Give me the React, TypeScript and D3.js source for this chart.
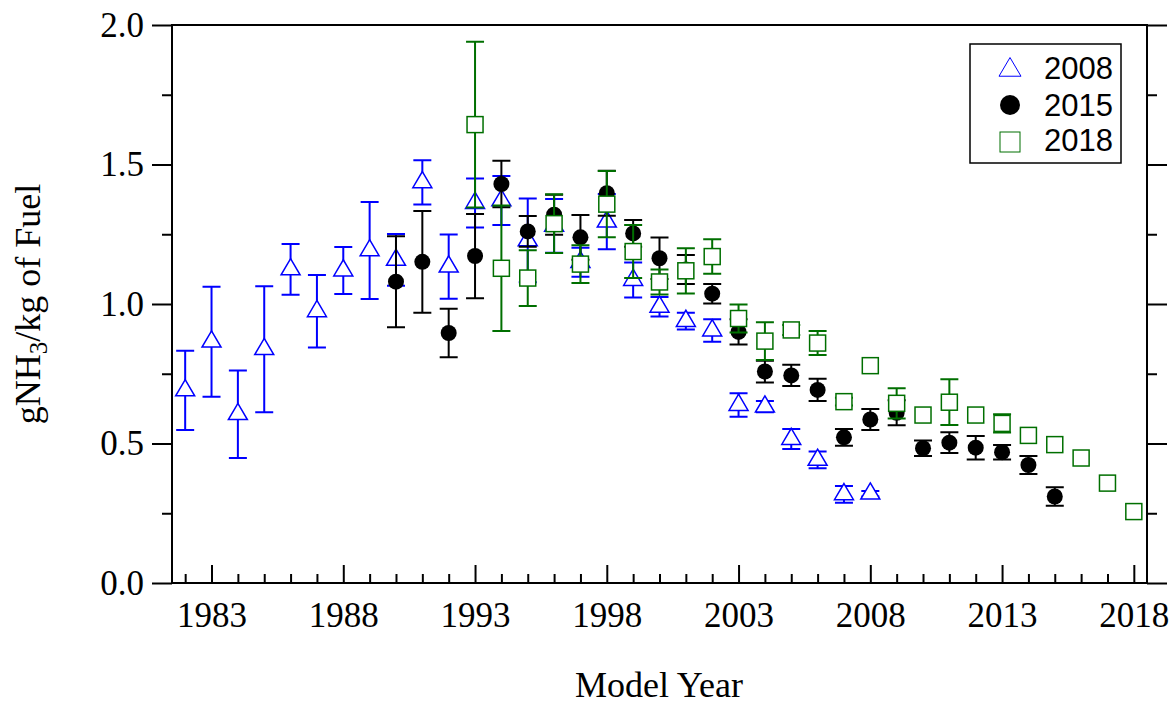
import * as d3 from 'd3';
import * as React from 'react';
import { Component } from 'react';

// 2008 campaign (blue triangles)
const years2008 = [1982, 1983, 1984, 1985, 1986, 1987, 1988, 1989, 1990, 1991, 1992, 1993, 1994, 1995,
  1996, 1997, 1998, 1999, 2000, 2001, 2002, 2003, 2004, 2005, 2006, 2007, 2008];
const mean2008 = [0.69, 0.865, 0.605, 0.838, 1.124, 0.974, 1.12, 1.192, 1.158, 1.436, 1.134, 1.362, 1.371, 1.228,
  1.28, 1.15, 1.295, 1.086, 0.99, 0.939, 0.905, 0.638, 0.632, 0.516, 0.441, 0.318, 0.32];
const err2008 = [0.142, 0.197, 0.157, 0.226, 0.091, 0.13, 0.084, 0.174, 0.093, 0.079, 0.115, 0.088, 0.088, 0.15,
  0.096, 0.052, 0.099, 0.063, 0.035, 0.03, 0.04, 0.042, 0.02, 0.036, 0.03, 0.03, 0.01];

// 2015 campaign (black circles)
const years2015 = [1990, 1991, 1992, 1993, 1994, 1995, 1996, 1997, 1998, 1999, 2000, 2001, 2002, 2003,
  2004, 2005, 2006, 2007, 2008, 2009, 2010, 2011, 2012, 2013, 2014, 2015];
const mean2015 = [1.08, 1.151, 0.896, 1.172, 1.43, 1.26, 1.32, 1.239, 1.397, 1.253, 1.164, 1.124, 1.037, 0.9,
  0.758, 0.744, 0.692, 0.522, 0.586, 0.61, 0.483, 0.503, 0.485, 0.469, 0.423, 0.31];
const err2015 = [0.163, 0.182, 0.087, 0.151, 0.083, 0.055, 0.072, 0.08, 0.081, 0.048, 0.074, 0.052, 0.035, 0.045,
  0.039, 0.038, 0.04, 0.03, 0.038, 0.045, 0.028, 0.037, 0.042, 0.026, 0.032, 0.033];

// 2018 campaign (green squares)
const years2018 = [1993, 1994, 1995, 1996, 1997, 1998, 1999, 2000, 2001, 2002, 2003, 2004, 2005, 2006,
  2007, 2008, 2009, 2010, 2011, 2012, 2013, 2014, 2015, 2016, 2017, 2018];
const mean2018 = [1.643, 1.128, 1.093, 1.288, 1.143, 1.358, 1.188, 1.079, 1.119, 1.17, 0.948, 0.867, 0.907, 0.86,
  0.65, 0.779, 0.644, 0.602, 0.648, 0.602, 0.572, 0.529, 0.496, 0.448, 0.358, 0.256];
const err2018 = [0.297, 0.225, 0.1, 0.105, 0.068, 0.119, 0.095, 0.045, 0.081, 0.062, 0.05, 0.068, 0.018, 0.043,
  0.014, 0, 0.054, 0, 0.082, 0, 0.033, 0, 0, 0, 0, 0];

const legendLabels = ['2008', '2015', '2018'];
const xMajorTicks = [1983, 1988, 1993, 1998, 2003, 2008, 2013, 2018];
const yMajorTicks = [0, 0.5, 1.0, 1.5, 2.0];
const yMinorTicks = [0.25, 0.75, 1.25, 1.75];

const BLUE = '#0000ff';
const GREEN = '#006f00';
const SERIF = '"Liberation Serif", "Times New Roman", serif';
const SANS = '"Liberation Sans", Arial, sans-serif';

const W = 1175;
const H = 707;

export default class App extends Component {
  private mountPoint: SVGSVGElement | null = null;

  public componentDidMount() {
    this.renderChart();
  }

  public render() {
    return (
      <svg
        ref={el => (this.mountPoint = el)}
        width={W}
        height={H}
        style={{ position: 'absolute', left: 0, top: 0, background: '#fff' }}
      />
    );
  }

  private renderChart = () => {
    if (!this.mountPoint) { return; }
    const svg = d3.select(this.mountPoint);
    svg.selectAll('*').remove();

    const x = d3.scaleLinear().domain([1981.5, 2018.5]).range([172, 1147]);
    const y = d3.scaleLinear().domain([0, 2]).range([583, 25]);

    const styleAxis = (g: any) => {
      g.select('.domain').remove();
      g.selectAll('.tick line').attr('stroke', '#000').attr('stroke-width', 2);
      g.selectAll('.tick text').attr('fill', '#000');
      g.attr('font-family', SERIF).attr('font-size', 35);
    };

    const xMinor = d3.range(1982, 2019).filter(v => xMajorTicks.indexOf(v) < 0);

    // left
    svg.append('g').attr('transform', 'translate(172,0)')
      .call(d3.axisLeft(y).tickValues(yMajorTicks).tickSize(20).tickPadding(8).tickFormat(d3.format('.1f')))
      .call(styleAxis);
    svg.append('g').attr('transform', 'translate(172,0)')
      .call(d3.axisLeft(y).tickValues(yMinorTicks).tickSize(10).tickFormat(() => ''))
      .call(styleAxis);
    // right
    svg.append('g').attr('transform', 'translate(1147,0)')
      .call(d3.axisRight(y).tickValues(yMajorTicks).tickSize(20).tickFormat(() => ''))
      .call(styleAxis);
    svg.append('g').attr('transform', 'translate(1147,0)')
      .call(d3.axisRight(y).tickValues(yMinorTicks).tickSize(10).tickFormat(() => ''))
      .call(styleAxis);
    // bottom (ticks inward)
    svg.append('g').attr('transform', 'translate(0,583)')
      .call(d3.axisBottom(x).tickValues(xMajorTicks).tickSize(-18).tickPadding(19).tickFormat(d3.format('d')))
      .call(styleAxis);
    svg.append('g').attr('transform', 'translate(0,583)')
      .call(d3.axisBottom(x).tickValues(xMinor).tickSize(-9).tickFormat(() => ''))
      .call(styleAxis);

    // frame
    svg.append('rect')
      .attr('x', 172).attr('y', 25)
      .attr('width', 1147 - 172).attr('height', 583 - 25)
      .attr('fill', 'none').attr('stroke', '#000').attr('stroke-width', 2);

    // titles
    svg.append('text')
      .attr('x', 659).attr('y', 697)
      .attr('text-anchor', 'middle')
      .attr('font-family', SERIF).attr('font-size', 36)
      .text('Model Year');

    const yt = svg.append('text')
      .attr('transform', 'translate(40,304) rotate(-90)')
      .attr('text-anchor', 'middle')
      .attr('font-family', SERIF).attr('font-size', 36);
    yt.append('tspan').text('gNH');
    yt.append('tspan').attr('font-size', 25).attr('dy', 7).text('3');
    yt.append('tspan').attr('dy', -7).text('/kg of Fuel');

    const tri = (s: number) => {
      const h = s * 0.85;
      return `M0,${-2 * h / 3}L${s / 2},${h / 3}L${-s / 2},${h / 3}Z`;
    };

    const drawSeries = (years: number[], means: number[], errs: number[], color: string, marker: string) => {
      const data = years.map((yr, i) => ({ yr, v: means[i], e: errs[i] }));
      const g = svg.append('g');
      const bars = data.filter(d => d.e > 0);
      g.selectAll('.bar').data(bars).enter().append('path')
        .attr('d', d => {
          const cx = x(d.yr);
          const y0 = y(d.v - d.e);
          const y1 = y(d.v + d.e);
          return `M${cx},${y0}V${y1}M${cx - 9},${y1}H${cx + 9}M${cx - 9},${y0}H${cx + 9}`;
        })
        .attr('fill', 'none').attr('stroke', color).attr('stroke-width', 2);

      if (marker === 'triangle') {
        g.selectAll('.m').data(data).enter().append('path')
          .attr('d', tri(19))
          .attr('transform', d => `translate(${x(d.yr)},${y(d.v)})`)
          .attr('fill', '#fff').attr('stroke', color).attr('stroke-width', 1.5);
      } else if (marker === 'circle') {
        g.selectAll('.m').data(data).enter().append('circle')
          .attr('cx', d => x(d.yr)).attr('cy', d => y(d.v)).attr('r', 8)
          .attr('fill', color);
      } else {
        g.selectAll('.m').data(data).enter().append('rect')
          .attr('x', d => x(d.yr) - 8).attr('y', d => y(d.v) - 8)
          .attr('width', 16).attr('height', 16)
          .attr('fill', '#fff').attr('stroke', color).attr('stroke-width', 1.5);
      }
    };

    drawSeries(years2008, mean2008, err2008, BLUE, 'triangle');
    drawSeries(years2015, mean2015, err2015, '#000', 'circle');
    drawSeries(years2018, mean2018, err2018, GREEN, 'square');

    // legend
    const lg = svg.append('g');
    lg.append('rect')
      .attr('x', 970).attr('y', 44).attr('width', 151).attr('height', 119)
      .attr('fill', '#fff').attr('stroke', '#000').attr('stroke-width', 1.5);
    lg.append('path').attr('d', tri(22)).attr('transform', 'translate(1010,70)')
      .attr('fill', '#fff').attr('stroke', BLUE).attr('stroke-width', 1);
    lg.append('circle').attr('cx', 1010).attr('cy', 105).attr('r', 10).attr('fill', '#000');
    lg.append('rect').attr('x', 1000).attr('y', 132).attr('width', 20).attr('height', 20)
      .attr('fill', '#fff').attr('stroke', GREEN).attr('stroke-width', 1);
    lg.selectAll('.lt').data(legendLabels).enter().append('text')
      .attr('x', 1044).attr('y', (d, i) => [79, 116, 151][i])
      .attr('font-family', SANS).attr('font-size', 31)
      .text(d => d);
  }
}
